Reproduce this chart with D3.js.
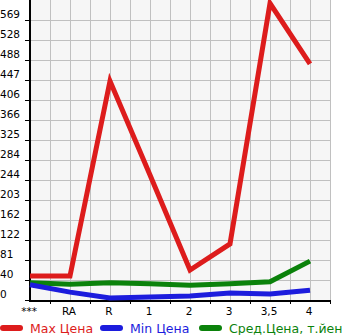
<!DOCTYPE html>
<meta charset="utf-8">
<style>
body { margin: 0; background: #fff; }
text { font-family: "DejaVu Sans", sans-serif; }
</style>
<body>
<svg width="345" height="335" id="chart"></svg>
<script src="https://d3js.org/d3.v7.min.js"></script>
<script>

var categories = ["***", "RA", "R", "1", "2", "3", "3,5", "4"];
var maxPrice = [49, 49, 445, 254, 61, 114, 603, 480];
var minPrice = [31, 16, 4, 6, 8, 14, 12, 20];
var avgPrice = [35, 32, 35, 33, 30, 33, 37, 79];
var yTicks = [0, 40, 81, 122, 162, 203, 244, 284, 325, 366, 406, 447, 488, 528, 569];

var svg = d3.select("svg");
var plotLeft = 30, plotRight = 330, plotTop = 0, plotBottom = 300;

var x = d3.scalePoint().domain(categories).range([plotLeft, plotLeft + 280]);
var y = d3.scaleLinear().domain([0, 569 * 15 / 14]).range([plotBottom, plotTop]);

// plot background
svg.append("rect")
    .attr("x", plotLeft).attr("y", plotTop)
    .attr("width", plotRight - plotLeft).attr("height", plotBottom - plotTop)
    .attr("fill", "#f6f6f6");

// grid
var grid = svg.append("g").attr("stroke", "#c0c0c0").attr("stroke-width", 1);
d3.range(plotLeft + 20, plotRight + 1, 20).forEach(function(gx) {
    grid.append("line").attr("x1", gx + 0.5).attr("x2", gx + 0.5).attr("y1", plotTop).attr("y2", plotBottom);
});
yTicks.slice(1).forEach(function(v) {
    var gy = Math.round(y(v)) + 0.5;
    grid.append("line").attr("x1", plotLeft).attr("x2", plotRight).attr("y1", gy).attr("y2", gy);
});

// y labels and ticks
yTicks.forEach(function(v) {
    var gy = Math.round(y(v));
    svg.append("line").attr("x1", plotLeft - 5).attr("x2", plotLeft).attr("y1", gy + 0.5).attr("y2", gy + 0.5)
        .attr("stroke", "#000");
    svg.append("text").attr("x", 0).attr("y", gy - 2)
        .attr("font-size", 10.5).attr("fill", "#000").text(v);
});

// x ticks and labels
d3.range(plotLeft + 20, plotRight + 2, 40).forEach(function(tx) {
    svg.append("line").attr("x1", tx + 0.5).attr("x2", tx + 0.5).attr("y1", plotBottom).attr("y2", plotBottom + 4)
        .attr("stroke", "#000");
});
categories.forEach(function(c) {
    svg.append("text").attr("x", x(c) - 1).attr("y", plotBottom + 15)
        .attr("text-anchor", "middle").attr("font-size", 10.5).attr("fill", "#000")
        .text(c);
});

// axes
svg.append("line").attr("x1", plotLeft).attr("x2", plotLeft).attr("y1", plotTop).attr("y2", plotBottom + 1)
    .attr("stroke", "#000").attr("stroke-width", 2);
svg.append("line").attr("x1", plotLeft - 1).attr("x2", plotRight + 1).attr("y1", plotBottom + 1).attr("y2", plotBottom + 1)
    .attr("stroke", "#000").attr("stroke-width", 2);

var line = d3.line()
    .x(function(d, i) { return x(categories[i]); })
    .y(function(d) { return y(d); });

var series = [
    { name: "Max Цена", values: maxPrice, color: "#dd1c1c" },
    { name: "Min Цена", values: minPrice, color: "#1c1cdd" },
    { name: "Сред.Цена, т.йен", values: avgPrice, color: "#0b820b" }
];

series.slice().reverse().forEach(function(s) {
    svg.append("path")
        .attr("d", line(s.values))
        .attr("fill", "none")
        .attr("stroke", s.color)
        .attr("stroke-width", 5)
        .attr("stroke-linejoin", "miter")
        .attr("stroke-linecap", "butt");
});

// legend
var legendX = [0, 100, 199];
series.forEach(function(s, i) {
    var lx = legendX[i];
    svg.append("line").attr("x1", lx + 3).attr("x2", lx + 20).attr("y1", 328).attr("y2", 328)
        .attr("stroke", s.color).attr("stroke-width", 6).attr("stroke-linecap", "round");
    svg.append("text").attr("x", lx + 30).attr("y", 333)
        .attr("font-size", 12.5).attr("fill", s.color).text(s.name);
});

</script>
</body>
